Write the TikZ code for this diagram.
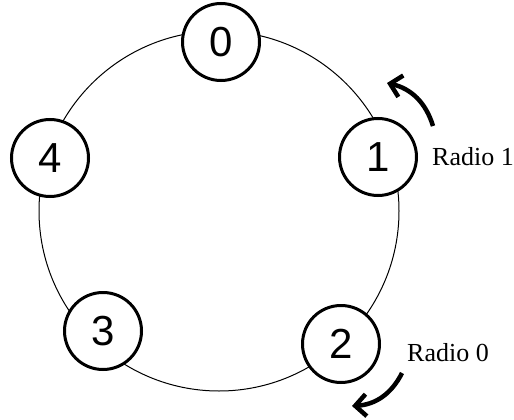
\documentclass[tikz,border=0pt]{standalone}
\usepackage{fontspec}
\setmainfont{Liberation Serif}
\newfontfamily\digitfont{Liberation Sans}
\usetikzlibrary{positioning, arrows.meta}

\begin{document}
\begin{tikzpicture}[x=1pt, y=-1pt,
    station/.style={circle, draw, line width=3pt, fill=white, minimum size=77pt, inner sep=0pt,
        font=\digitfont\fontsize{42}{42}\selectfont},
    radiolabel/.style={font=\fontsize{26}{26}\selectfont},
    turn/.style={line width=4.5pt, -{Straight Barb[length=11pt, width=22pt]}}]
    \useasboundingbox (0,0) rectangle (514,420);

    % ring
    \draw[line width=1pt] (219,211) circle (180pt);

    % stations
    \node[station] (n0) at (221,42) {0};
    \node[station] (n1) at (378,157) {1};
    \node[station] (n2) at (341,344) {2};
    \node[station] (n3) at (103,331) {3};
    \node[station] (n4) at (50,158) {4};

    % radios and their sense of rotation
    \node[radiolabel] (r1) at (473,157) {Radio 1};
    \node[radiolabel] (r0) at (448,353) {Radio 0};

    \coordinate (r1a) at (433,126);
    \coordinate (r1b) at (387,83);
    \coordinate (r0a) at (402,373);
    \coordinate (r0b) at (352,406);
    \draw[turn] (r1a) to[bend right=30] (r1b);
    \draw[turn] (r0a) to[bend left=30] (r0b);
\end{tikzpicture}
\end{document}
